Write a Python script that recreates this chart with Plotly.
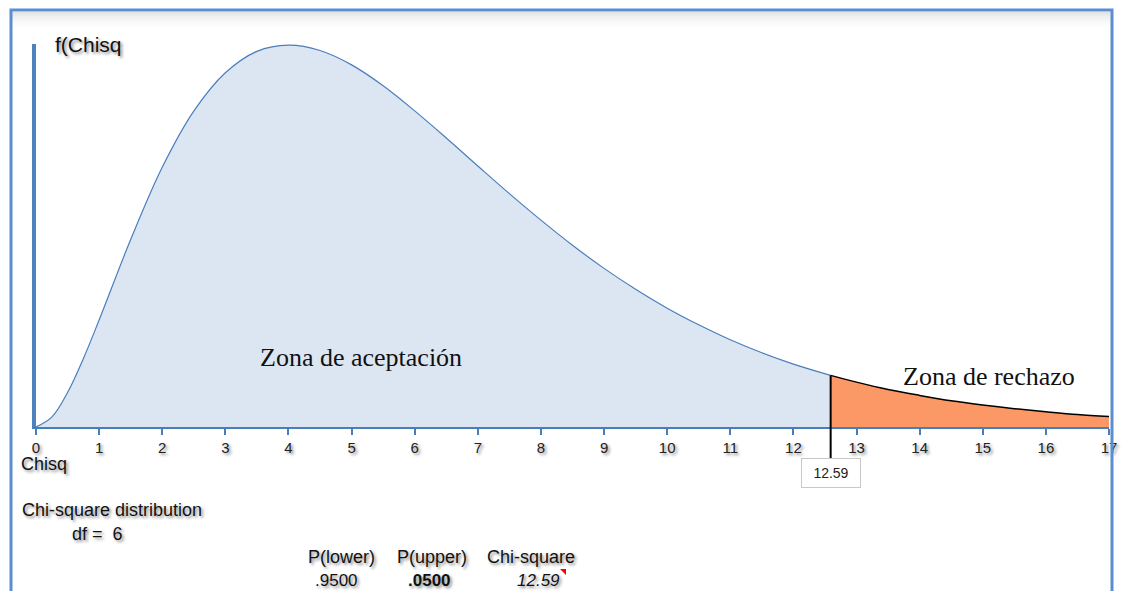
import plotly.graph_objects as go

# ---- data (chi-square density, df = 6) ----
accept_x = [0, 0.25, 0.5, 0.75, 1, 1.5, 2, 2.5, 3, 3.5, 4, 4.5, 5, 5.5, 6, 6.5, 7, 7.5, 8, 8.5,
            9, 9.5, 10, 10.5, 11, 11.5, 12, 12.59]
accept_y = [0, 0.0035, 0.0122, 0.0242, 0.0379, 0.0664, 0.0920, 0.1119, 0.1255, 0.1331, 0.1353, 0.1334,
            0.1283, 0.1209, 0.1120, 0.1024, 0.0925, 0.0827, 0.0733, 0.0644, 0.0562,
            0.0488, 0.0421, 0.0362, 0.0309, 0.0263, 0.0223, 0.0183]
reject_x = [12.59, 13, 13.5, 14, 14.5, 15, 15.5, 16, 16.5, 17]
reject_y = [0.0183, 0.0159, 0.0133, 0.0112, 0.0093, 0.0078, 0.0065, 0.0054, 0.0044, 0.0037]
tick_vals = list(range(0, 18))
critical = 12.59
df_value = 6
p_lower = ".9500"
p_upper = ".0500"
chi_label = "12.59"

W, H = 1124, 591
def px(x):
    return x / W
def py(y):
    return 1 - y / H

SH = "2px 2px 3px rgba(0,0,0,0.45)"
BLUE = "#4A7EBB"

fig = go.Figure()
fig.add_trace(go.Scatter(x=accept_x, y=accept_y, mode="lines", line=dict(color=BLUE, width=1.2, shape="spline"),
                         fill="tozeroy", fillcolor="#DCE6F2", hoverinfo="skip"))
fig.add_trace(go.Scatter(x=reject_x, y=reject_y, mode="lines", line=dict(color="black", width=1.5, shape="spline"),
                         fill="tozeroy", fillcolor="#FC9866", hoverinfo="skip"))

fig.update_layout(
    width=W, height=H, margin=dict(l=0, r=0, t=0, b=0, pad=0, autoexpand=False),
    paper_bgcolor="white", plot_bgcolor="rgba(0,0,0,0)", showlegend=False,
    font=dict(family="Liberation Sans, Arial", color="#111"),
    xaxis=dict(domain=[px(36), px(1109)], range=[0, 17], tickvals=tick_vals, automargin=False,
               showgrid=False, zeroline=False, showline=True, linecolor=BLUE, linewidth=2,
               ticks="outside", ticklen=6, tickwidth=2, tickcolor=BLUE,
               tickfont=dict(size=15, color="#222", shadow=SH), fixedrange=True),
    yaxis=dict(domain=[py(427), py(44)], range=[0, 0.1357], showgrid=False, zeroline=False,
               automargin=False,
               showticklabels=False, showline=True, linecolor="#4F81BD", linewidth=4,
               fixedrange=True),
)

# soft shadow band under the top of the frame
for i, a in enumerate([0.10, 0.08, 0.06, 0.045, 0.03, 0.02, 0.01]):
    fig.add_shape(type="rect", xref="paper", yref="paper", x0=px(12), x1=px(1111),
                  y0=py(12 + 2 * (i + 1)), y1=py(12 + 2 * i),
                  fillcolor=f"rgba(0,0,0,{a})", line=dict(width=0), layer="below")

# critical value line
fig.add_shape(type="line", xref="x", yref="y", x0=critical, x1=critical, y0=0, y1=reject_y[0],
              line=dict(color="black", width=2))
fig.add_shape(type="line", xref="x", yref="paper", x0=critical, x1=critical, y0=py(458), y1=py(427),
              line=dict(color="black", width=2))
fig.add_annotation(x=critical, xref="x", y=py(473), yref="paper", yanchor="middle", xanchor="center",
                   text=chi_label, showarrow=False,
                   font=dict(size=14, color="#222"), bgcolor="white", bordercolor="#C8C8C8",
                   borderwidth=1, width=56, height=26, borderpad=1)

# outer frame
fig.add_shape(type="rect", xref="paper", yref="paper", x0=px(11), x1=px(1112), y0=py(610), y1=py(10),
              line=dict(color="#5B8DD0", width=3), layer="above")

# red comment marker
fig.add_shape(type="path", xref="paper", yref="paper",
              path=f"M {px(560)} {py(569)} L {px(566)} {py(569)} L {px(566)} {py(575)} Z",
              fillcolor="red", line=dict(width=0))

def label(text, x, y, size=18, xanchor="left", family="Liberation Sans, Arial", shadow=SH):
    fig.add_annotation(x=px(x), y=py(y), xref="paper", yref="paper", text=text, showarrow=False,
                       xanchor=xanchor, yanchor="middle",
                       font=dict(size=size, family=family, color="#111", shadow=shadow))

label("f(Chisq", 53, 44, size=21)
label("Chisq", 19, 464)
label("Chi-square distribution", 20, 510)
label(f"df =  {df_value}", 70, 534)
label("P(lower)", 341, 557, xanchor="center")
label(p_lower, 336, 580, size=17, xanchor="center")
label("P(upper)", 432, 557, xanchor="center")
label(f"<b>{p_upper}</b>", 429, 580, size=17, xanchor="center")
label("Chi-square", 531, 557, xanchor="center")
label(f"<i>{chi_label}</i>", 538, 580, size=17, xanchor="center")
label("Zona de aceptación", 361, 357, size=26, xanchor="center", family="Liberation Serif, Times New Roman", shadow="none")
label("Zona de rechazo", 989, 377, size=26, xanchor="center", family="Liberation Serif, Times New Roman", shadow="none")

fig.write_html("out.html", config={"displayModeBar": False},
               post_script="document.body.style.margin='0';document.body.style.overflow='hidden';")
